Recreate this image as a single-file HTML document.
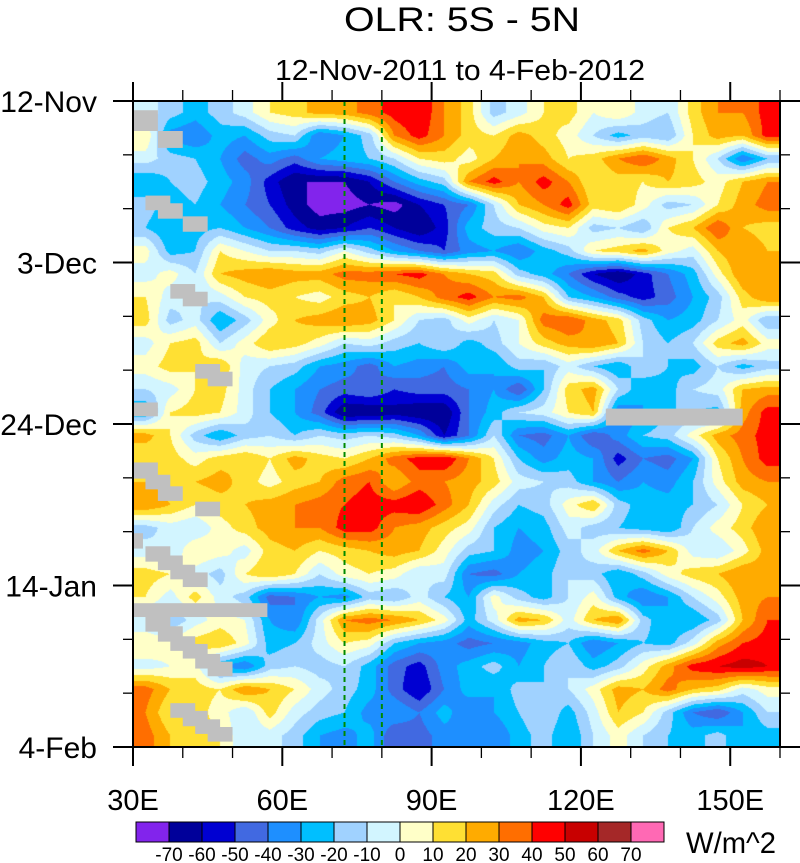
<!DOCTYPE html>
<html><head><meta charset="utf-8"><style>
html,body{margin:0;padding:0;background:#fff;width:800px;height:863px;overflow:hidden}
#wrap{position:relative;width:800px;height:863px}
canvas{position:absolute;left:133px;top:101px}
svg{position:absolute;left:0;top:0}
text{font-family:"Liberation Sans",sans-serif;fill:#000}
</style></head><body>
<div id="wrap">
<canvas id="cv" width="647" height="646"></canvas>
<svg id="sv" width="800" height="863"></svg>
</div>
<script>
const lonStart = 30, lonStep = 5;
const dayStep = 3;
const levels = [-70,-60,-50,-40,-30,-20,-10,0,10,20,30,40,50,60,70];
const levelColors = ["#8224ec","#00009a","#0000d2","#4169e1","#1e8fff","#00bfff","#a0d2ff","#d2f5ff","#ffffc8","#ffe033","#ffab00","#ff6e00","#ff0000","#c80000","#a52828","#ff69b4"];
const xTickLabels = ["30E","60E","90E","120E","150E"];
const xTickLons = [30,60,90,120,150];
const yTickLabels = ["12-Nov","3-Dec","24-Dec","14-Jan","4-Feb"];
const yTickDays = [0,21,42,63,84];
const refLons = [72.5,80];
const olr = [
[-5,-15,-25,-15,-5,10,15,25,25,35,45,50,30,15,-15,-5,10,15,0,10,-5,-10,15,30,30,45],
[10,-35,-40,-25,-30,-15,-10,-40,-30,-15,30,45,30,15,10,25,15,5,-10,-25,-15,-20,10,25,20,45],
[-5,-15,-20,-30,-45,-35,-45,-30,-25,-20,-10,10,15,5,20,30,25,10,15,30,40,25,10,-10,-40,-20],
[-30,-20,-15,-25,-35,-55,-70,-70,-70,-60,-40,-25,-15,30,45,30,45,30,10,15,10,20,15,5,20,30],
[-15,-25,-20,-30,-40,-50,-65,-75,-75,-70,-75,-60,-50,-40,-10,20,30,45,15,20,5,-15,-10,10,25,35],
[-20,-30,-25,-20,-30,-40,-55,-65,-60,-50,-60,-70,-55,-25,-15,-10,5,10,-15,-10,-20,10,20,40,20,15],
[5,-25,-20,10,0,-10,-10,-15,0,-15,-30,-40,-50,-35,-30,-40,-25,-15,10,15,25,5,-5,20,30,20],
[-5,5,-10,20,25,30,25,25,35,35,40,45,30,20,15,-15,-25,-40,-60,-70,-55,-40,-25,5,30,25],
[10,-5,-10,-5,10,15,10,5,15,20,10,20,35,45,30,35,20,-20,-30,-45,-55,-45,-30,-15,15,30],
[15,-15,-5,-30,-15,5,20,25,30,25,10,-10,-15,5,-10,0,35,40,25,15,-15,-30,-25,-10,5,-20],
[-5,10,15,-10,5,20,15,5,-10,-5,-15,-20,-10,-25,-15,0,15,25,30,20,-10,-20,-10,15,25,5],
[5,15,10,20,-5,-10,-15,-30,-35,-45,-30,-35,-40,-25,-30,-15,-20,-5,-20,-30,-10,-20,-25,-10,-25,-15],
[-10,-5,10,15,-5,-20,-30,-40,-45,-40,-50,-45,-45,-40,-30,-50,-20,15,25,-10,-30,-25,-10,-5,20,25],
[-30,10,15,10,-5,-20,-30,-45,-70,-70,-65,-70,-70,-40,-25,-10,-5,10,20,-40,-30,-20,-20,-25,25,45],
[25,10,-15,-30,-15,-10,-20,-10,-15,-10,-15,-30,-60,-40,-10,-40,-45,-30,-50,-35,-20,-15,5,25,35,45],
[10,15,5,15,20,10,25,15,10,20,35,45,50,30,10,-20,-35,-25,-30,-55,-40,-45,-30,10,30,45],
[20,15,20,25,15,5,15,20,35,40,20,35,30,25,15,-5,-10,-15,-30,-40,-30,-35,-20,5,25,30],
[30,20,10,15,20,25,30,35,40,45,45,50,35,20,-5,-20,-15,5,20,-15,-25,-25,-20,-10,10,20],
[-15,-5,-10,5,15,25,30,30,45,45,30,25,15,5,-20,-30,-25,-5,-15,-20,-25,-30,-10,5,15,30],
[-5,-10,10,5,-5,15,20,10,15,20,25,20,5,-15,-20,-35,-30,-15,-5,20,35,20,-5,-10,5,25],
[15,10,-5,-15,10,20,10,-10,5,10,5,-10,-5,-40,-45,-30,-25,-10,-15,-30,-15,5,15,20,30,25],
[10,-5,15,-5,-15,-45,-40,-30,-35,-15,-20,-5,-20,-30,5,-15,-25,-10,5,-25,-40,-30,-10,5,25,30],
[-10,-20,-5,5,0,-30,-40,-5,30,35,30,20,5,-25,-5,25,20,-5,20,30,-15,-30,-30,-15,20,40],
[10,5,15,20,5,-25,-20,-5,10,5,-20,-30,-35,-45,-40,-35,-25,-20,-40,-30,-20,-25,-5,25,40,45],
[-5,0,5,-30,-40,-15,-10,-15,-10,-25,-45,-55,-35,-25,-15,-30,-20,-10,-25,-15,5,25,45,50,55,50],
[35,20,15,10,30,20,10,-5,-15,-25,-45,-60,-40,-25,-30,-15,-20,-10,5,25,20,35,20,15,-5,5],
[30,10,15,5,-10,15,-5,-15,-20,-35,-30,-40,-25,-40,-30,-20,-10,-25,-5,20,10,-15,-40,-50,-30,-10],
[35,20,15,10,-10,-5,-15,-30,-35,-25,-50,-45,-35,-30,-40,-25,-15,-30,-10,5,-10,-20,-25,-15,-30,-25]
];
// missing-data boxes: [lon0, lon1, day0, day1]
const missing = [
[30,35,1.2,3.9],[35,40,3.9,6.1],[32.5,37.5,12.3,14.2],[35,40,13.3,15.3],[40,45,15,17],
[37.5,42.5,23.8,25.7],[40,45,24.8,26.7],[42.5,47.5,34.2,36.1],[45,50,35.2,37.1],[30,35,39.2,41],
[125,152.5,40,42.2],[30,35,47,49.1],[32.5,37.5,48.6,50.5],[35,40,50.1,52],[42.5,47.5,52.1,54],
[30,32,56.2,58.2],[32.5,37.5,57.9,59.9],[35,40,59.1,61],[37.5,42.5,60.3,62.2],[40,45,61.3,63.2],
[30,57,65.3,67.1],[32.5,37.5,67,69],[35,40,68.3,70.3],[37.5,42.5,69.6,71.5],[40,45,70.6,72.5],[42.5,47.5,71.9,73.8],[45,50,72.9,74.8],
[37.5,42.5,78.3,80.2],[40,45,79.3,81.3],[42.5,47.5,80.4,82.3],[45,50,81.4,83.3]
];
const X0=133,X1=780,Y0=101,Y1=747;
const lonMin=30,lonMax=160,dayMax=84;
function xs(lon){return X0+(lon-lonMin)/(lonMax-lonMin)*(X1-X0);}
function ys(day){return Y0+day/dayMax*(Y1-Y0);}
function hex(c){return [parseInt(c.substr(1,2),16),parseInt(c.substr(3,2),16),parseInt(c.substr(5,2),16)];}
const cv=document.getElementById('cv');const ctx=cv.getContext('2d');
const W=cv.width,H=cv.height;const img=ctx.createImageData(W,H);
const nr=olr.length,nc=olr[0].length;
const rgb=levelColors.map(hex);
for(let py=0;py<H;py++){
  const day=(py+0.5)/H*dayMax;
  let fr=(day-dayStep/2)/dayStep; fr=Math.max(0,Math.min(nr-1,fr));
  const r0=Math.min(nr-2,Math.floor(fr)),tr=fr-r0;
  for(let px=0;px<W;px++){
    const lon=lonMin+(px+0.5)/W*(lonMax-lonMin);
    let fc=(lon-lonStart-lonStep/2)/lonStep; fc=Math.max(0,Math.min(nc-1,fc));
    const c0=Math.min(nc-2,Math.floor(fc)),tc=fc-c0;
    const v=(olr[r0][c0]*(1-tc)+olr[r0][c0+1]*tc)*(1-tr)+(olr[r0+1][c0]*(1-tc)+olr[r0+1][c0+1]*tc)*tr;
    let i=0;while(i<levels.length&&v>=levels[i])i++;
    const c=rgb[i];const k=(py*W+px)*4;
    img.data[k]=c[0];img.data[k+1]=c[1];img.data[k+2]=c[2];img.data[k+3]=255;
  }
}
ctx.putImageData(img,0,0);
const NS="http://www.w3.org/2000/svg";const sv=document.getElementById('sv');
function el(tag,attrs,name,parent){const e=document.createElementNS(NS,tag);for(const k in attrs)e.setAttribute(k,attrs[k]);


(parent||sv).appendChild(e);return e;}
missing.forEach(m=>{
  el('rect',{x:xs(m[0]),y:ys(m[2]),width:xs(m[1])-xs(m[0]),height:ys(m[3])-ys(m[2]),fill:'#c0c0c0'},'missing-data-box');
});
refLons.forEach(l=>{
  el('line',{x1:xs(l),x2:xs(l),y1:Y0,y2:Y1,stroke:'#008a00','stroke-width':2,'stroke-dasharray':'5,4'},'reference-longitude-line');
});
el('rect',{x:X0,y:Y0,width:X1-X0,height:Y1-Y0,fill:'none',stroke:'#000','stroke-width':2},'plot-frame');
for(let lon=30;lon<=160;lon+=10){
  const major=xTickLons.includes(lon);const x=xs(lon);const len=major?19:11;
  el('line',{x1:x,x2:x,y1:Y1,y2:Y1+len,stroke:'#000','stroke-width':major?2:1.3},'x-tick');
  el('line',{x1:x,x2:x,y1:Y0,y2:Y0-len,stroke:'#000','stroke-width':major?2:1.3},'x-tick-top');
}
xTickLabels.forEach((t,i)=>{
  const e=el('text',{x:xs(xTickLons[i]),y:810,'text-anchor':'middle',style:'font-size:29px'},'x-tick-label');e.textContent=t;
});
for(let d=0;d<=84;d+=7){
  const major=yTickDays.includes(d);const y=ys(d);const len=major?20:10;
  el('line',{x1:X0-len,x2:X0,y1:y,y2:y,stroke:'#000','stroke-width':major?2:1.3},'y-tick');
  el('line',{x1:X1,x2:X1+len,y1:y,y2:y,stroke:'#000','stroke-width':major?2:1.3},'y-tick-right');
}
yTickLabels.forEach((t,i)=>{
  const e=el('text',{x:97,y:ys(yTickDays[i])+11,'text-anchor':'end',style:'font-size:30px'},'y-tick-label');e.textContent=t;
});
let t=el('text',{x:462,y:31,'text-anchor':'middle',style:'font-size:34px',textLength:236,lengthAdjust:'spacingAndGlyphs'},'chart-title');t.textContent='OLR: 5S - 5N';
t=el('text',{x:460,y:80,'text-anchor':'middle',style:'font-size:29px',textLength:370,lengthAdjust:'spacingAndGlyphs'},'chart-subtitle');t.textContent='12-Nov-2011 to 4-Feb-2012';
const cbX=136,cbW=528,cbY=822,cbH=20,bw=cbW/levelColors.length;
const cb=el('g',{},'colorbar');
levelColors.forEach((c,i)=>{
  el('rect',{x:cbX+i*bw,y:cbY,width:bw,height:cbH,fill:c,stroke:'#000','stroke-width':1},'colorbar-box',cb);
});
levels.forEach((lv,i)=>{
  const e=el('text',{x:cbX+(i+1)*bw,y:861,'text-anchor':'middle',style:'font-size:19px'},'colorbar-label',cb);e.textContent=String(lv);
});
t=el('text',{x:686,y:853,style:'font-size:30px',textLength:90,lengthAdjust:'spacingAndGlyphs'},'colorbar-units');t.textContent='W/m^2';
</script>
</body></html>
